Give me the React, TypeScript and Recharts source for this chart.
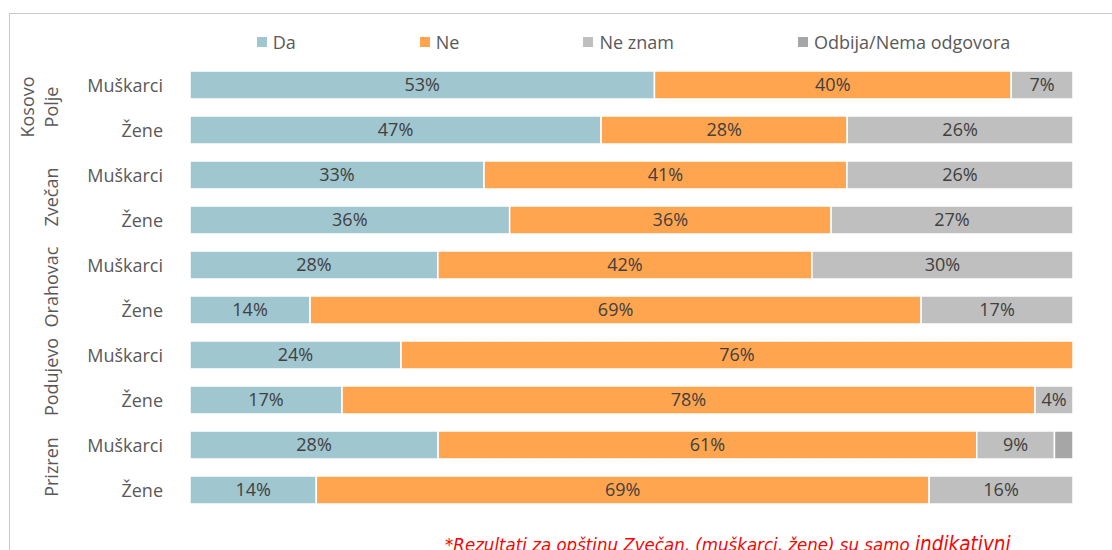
import { BarChart, Bar, XAxis, YAxis, LabelList } from "recharts";

// row labels and group (municipality) labels
const rows = ["Muškarci", "Žene", "Muškarci", "Žene", "Muškarci", "Žene", "Muškarci", "Žene", "Muškarci", "Žene"];
const groups = [["Kosovo", "Polje"], ["Zvečan"], ["Orahovac"], ["Podujevo"], ["Prizren"]];

// series values (%)
const da = [52.6, 46.6, 33.3, 36.2, 28.1, 13.6, 23.9, 17.2, 28.1, 14.3];
const ne = [40.4, 27.9, 41.1, 36.4, 42.4, 69.2, 76.1, 78.4, 61.0, 69.4];
const neZnam = [7.0, 25.6, 25.6, 27.4, 29.6, 17.2, 0, 4.3, 8.8, 16.3];
const odbija = [0, 0, 0, 0, 0, 0, 0, 0, 2.1, 0];

const series = [
  { key: "da", name: "Da", color: "#A0C6CF" },
  { key: "ne", name: "Ne", color: "#FFA54F" },
  { key: "neZnam", name: "Ne znam", color: "#BFBFBF" },
  { key: "odbija", name: "Odbija/Nema odgovora", color: "#A6A6A6" },
];

const data = rows.map((label, i) => ({
  label,
  da: da[i],
  ne: ne[i],
  neZnam: neZnam[i],
  odbija: odbija[i],
}));

const FONT = "'Open Sans', 'Noto Sans', sans-serif";

function RowTick(props: any) {
  const { y, payload } = props;
  const i = payload.index;
  const g = groups[Math.floor(i / 2)];
  return (
    <g>
      <text x={163} y={y} textAnchor="end" dominantBaseline="central" fill="#595959" fontSize={18} fontFamily={FONT}>
        {payload.value}
      </text>
      {i % 2 === 1 &&
        g.map((line, k) => {
          const gx = g.length === 2 ? (k === 0 ? 27 : 51) : 51;
          const gy = y - 22.5;
          return (
            <text
              key={k}
              x={gx}
              y={gy}
              transform={`rotate(-90 ${gx} ${gy})`}
              textAnchor="middle"
              dominantBaseline="central"
              fill="#595959"
              fontSize={18}
              fontFamily={FONT}
            >
              {line}
            </text>
          );
        })}
    </g>
  );
}

const fmt = (v: any) => (Number(v) >= 3 ? `${Math.round(Number(v))}%` : "");

export default function App() {
  return (
    <div style={{ position: "absolute", left: 0, top: 0, width: 1112, height: 550, overflow: "hidden", background: "#fff" }}>
      <div
        style={{
          position: "absolute",
          left: 9,
          top: 13,
          width: 1200,
          height: 600,
          borderLeft: "1.5px solid #C9C9C9",
          borderTop: "1.5px solid #C9C9C9",
        }}
      />
      <div
        style={{
          position: "absolute",
          left: 192,
          top: 30,
          width: 883,
          display: "flex",
          justifyContent: "center",
          gap: 124,
          fontFamily: FONT,
          fontSize: 18,
          color: "#595959",
        }}
      >
        {series.map((s) => (
          <div key={s.key} style={{ display: "flex", alignItems: "center" }}>
            <span style={{ width: 10, height: 10, background: s.color, marginRight: 6, display: "inline-block" }} />
            <span>{s.name}</span>
          </div>
        ))}
      </div>
      <div style={{ position: "absolute", left: 0, top: 0 }}>
        <BarChart
          width={1112}
          height={550}
          data={data}
          layout="vertical"
          stackOffset="expand"
          barSize={28}
          margin={{ top: 62, right: 39, bottom: 38, left: 0 }}
        >
          <XAxis type="number" hide domain={[0, 1]} />
          <YAxis
            type="category"
            dataKey="label"
            width={190}
            axisLine={false}
            tickLine={false}
            interval={0}
            tick={<RowTick />}
          />
          {series.map((s) => (
            <Bar key={s.key} dataKey={s.key} name={s.name} stackId="a" fill={s.color} stroke="#fff" strokeWidth={1.5} isAnimationActive={false}>
              <LabelList dataKey={s.key} position="center" formatter={fmt} fill="#404040" fontSize={18} fontFamily={FONT} />
            </Bar>
          ))}
        </BarChart>
      </div>
      <div
        style={{
          position: "absolute",
          left: 445,
          top: 532,
          whiteSpace: "nowrap",
          color: "#FF0000",
          fontStyle: "italic",
          fontFamily: "'Liberation Sans Narrow', 'DejaVu Sans Condensed', sans-serif",
          fontSize: 18.5,
        }}
      >
        *Rezultati za opštinu Zvečan, (muškarci, žene) su samo <span style={{ fontSize: 20.5 }}>indikativni</span>
      </div>
    </div>
  );
}
